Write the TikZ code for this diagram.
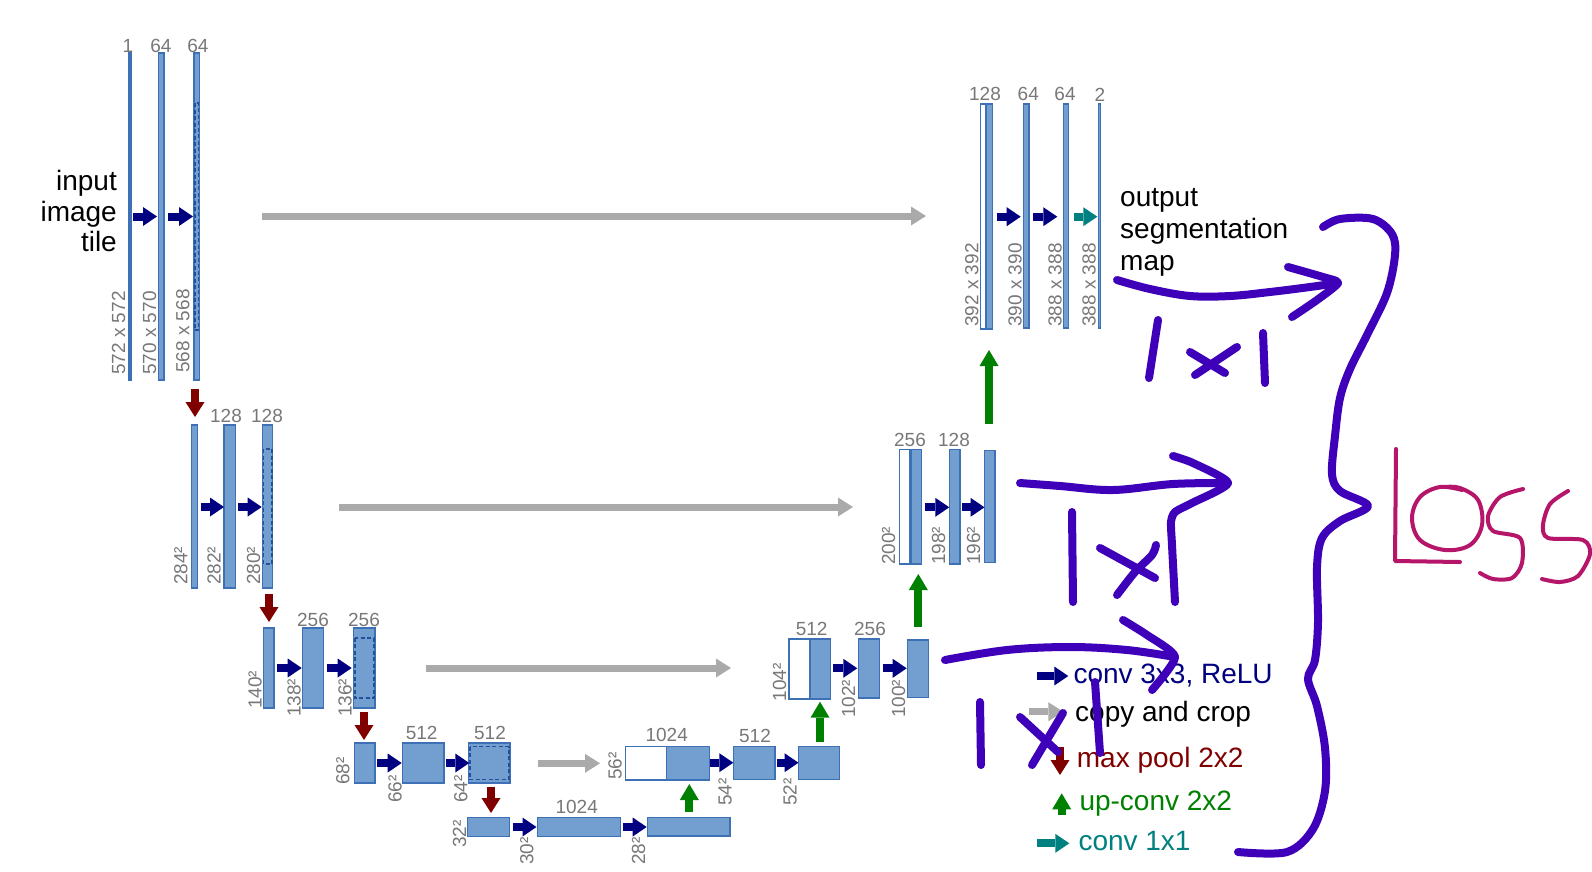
\documentclass[tikz,border=0pt]{standalone}
\usepackage{fontspec}
\setmainfont{Liberation Sans}
\usetikzlibrary{arrows.meta}
\definecolor{barfill}{RGB}{114,159,207}
\definecolor{barline}{RGB}{62,112,182}
\definecolor{cropline}{RGB}{35,80,155}
\definecolor{navyc}{RGB}{0,0,128}
\definecolor{maroonc}{RGB}{128,0,0}
\definecolor{greenc}{RGB}{0,128,0}
\definecolor{tealc}{RGB}{0,128,128}
\definecolor{greyarrow}{RGB}{170,170,170}
\definecolor{labelgrey}{RGB}{120,120,120}
\definecolor{penc}{RGB}{62,0,185}
\definecolor{lossc}{RGB}{182,22,105}
\begin{document}
\begin{tikzpicture}[x=1pt,y=-1pt,
  bar/.style={draw=barline,fill=barfill,line width=1.2pt,inner sep=0pt,outer sep=0pt,anchor=north west},
  wbar/.style={bar,fill=white},
  croprect/.style={draw=cropline,line width=1.8pt,dash pattern=on 4pt off 2.5pt},
  tiparrow/.style={-{Triangle[length=14pt,width=19pt,line width=0pt]}},
  convarrow/.style={draw=navyc,line width=8pt,tiparrow},
  onearrow/.style={draw=tealc,line width=8pt,tiparrow},
  copyarrow/.style={draw=greyarrow,line width=7pt,-{Triangle[length=15pt,width=19pt,line width=0pt]}},
  poolarrow/.style={draw=maroonc,line width=8pt,-{Triangle[length=15pt,width=19pt,line width=0pt]}},
  uparrow/.style={draw=greenc,line width=8pt,-{Triangle[length=16pt,width=19pt,line width=0pt]}},
  toplabel/.style={font=\fontsize{19}{22}\selectfont,text=labelgrey,inner sep=0pt,anchor=base},
  dimlabel/.style={toplabel,rotate=90,anchor=base west},
  bigtext/.style={font=\fontsize{28}{31}\selectfont,inner sep=0pt},
  hand/.style={draw=penc,line width=8pt,line cap=round,line join=round},
  losspen/.style={draw=lossc,line width=4pt,line cap=round,line join=round}
]
\useasboundingbox[fill=white] (0,0) rectangle (1592,871);

% ---------- level 1 (down) ----------
\node[bar,minimum width=2pt,minimum height=327pt] (b1a) at (129,53) {};
\node[bar,minimum width=5.3pt,minimum height=327pt] (b1b) at (158.7,53) {};
\node[bar,minimum width=5.3pt,minimum height=327pt] (b1c) at (194,53) {};
\draw[croprect] (194.8,103) rectangle (198.5,330);
\node[toplabel] (t1a) at (128,52) {1};
\node[toplabel] (t1b) at (161,52) {64};
\node[toplabel] (t1c) at (198,52) {64};
\node[dimlabel] (d1a) at (125,375) {572 x 572};
\node[dimlabel] (d1b) at (156,375) {570 x 570};
\node[dimlabel] (d1c) at (189.3,373) {568 x 568};
\draw[convarrow] (133,216.5) -- (157,216.5);
\draw[convarrow] (168,216.5) -- (193,216.5);
\node[bigtext,anchor=base east] (in1) at (117,190) {input};
\node[bigtext,anchor=base east] (in2) at (117,221.7) {image};
\node[bigtext,anchor=base east] (in3) at (117,251.7) {tile};
\draw[copyarrow] (262,216) -- (926,216);

% ---------- level 2 (down) ----------
\draw[poolarrow] (195,389) -- (195,417);
\node[bar,minimum width=5.6pt,minimum height=163pt] (b2a) at (191.7,425) {};
\node[bar,minimum width=11.7pt,minimum height=163pt] (b2b) at (224,425) {};
\node[bar,minimum width=10pt,minimum height=163pt] (b2c) at (262.7,425) {};
\draw[croprect] (263.5,449) rectangle (271.9,564);
\node[toplabel] (t2b) at (226,422) {128};
\node[toplabel] (t2c) at (267,422) {128};
\node[dimlabel] (d2a) at (187.3,585) {284²};
\node[dimlabel] (d2b) at (220.7,585) {282²};
\node[dimlabel] (d2c) at (260,585) {280²};
\draw[convarrow] (200.7,507) -- (224,507);
\draw[convarrow] (238,507) -- (261.7,507);
\draw[copyarrow] (339,507) -- (853,507);

% ---------- level 3 (down) ----------
\draw[poolarrow] (269,594) -- (269,622);
\node[bar,minimum width=10.7pt,minimum height=80pt] (b3a) at (263.3,628) {};
\node[bar,minimum width=20.6pt,minimum height=80pt] (b3b) at (302.7,628) {};
\node[bar,minimum width=21.7pt,minimum height=80pt] (b3c) at (353.3,628) {};
\draw[croprect] (354.6,637.7) rectangle (373.8,698.3);
\node[toplabel] (t3b) at (313,626) {256};
\node[toplabel] (t3c) at (364,626) {256};
\node[dimlabel] (d3a) at (261.7,709) {140²};
\node[dimlabel] (d3b) at (300.7,717) {138²};
\node[dimlabel] (d3c) at (351.7,717) {136²};
\draw[convarrow] (277,668) -- (301.7,668);
\draw[convarrow] (326.7,668) -- (351.7,668);
\draw[copyarrow] (426,668) -- (731,668);

% ---------- level 4 (down) ----------
\draw[poolarrow] (364,711.7) -- (364,740);
\node[bar,minimum width=20.7pt,minimum height=40pt] (b4a) at (354.3,743) {};
\node[bar,minimum width=41.7pt,minimum height=40pt] (b4b) at (402.3,743) {};
\node[bar,minimum width=41.7pt,minimum height=40pt] (b4c) at (468.3,743) {};
\draw[croprect] (469.8,746.5) rectangle (508.6,779.5);
\node[toplabel] (t4b) at (421.7,739) {512};
\node[toplabel] (t4c) at (490,739) {512};
\node[dimlabel] (d4a) at (349.3,785) {68²};
\node[dimlabel] (d4b) at (401.7,803) {66²};
\node[dimlabel] (d4c) at (467.3,803) {64²};
\draw[convarrow] (377.3,763) -- (401.7,763);
\draw[convarrow] (446,763) -- (469.3,763);
\draw[copyarrow] (538.3,763.3) -- (600,763.3);

% ---------- level 5 (bottom) ----------
\draw[poolarrow] (491,786.7) -- (491,813);
\node[bar,minimum width=41.6pt,minimum height=19.2pt] (b5a) at (467.7,817.5) {};
\node[bar,minimum width=83.4pt,minimum height=19.2pt] (b5b) at (537.3,817.5) {};
\node[bar,minimum width=82.7pt,minimum height=18.5pt] (b5c) at (647.3,817.5) {};
\node[toplabel] (t5b) at (576.7,813) {1024};
\node[dimlabel] (d5a) at (466,848) {32²};
\node[dimlabel] (d5b) at (533.3,865) {30²};
\node[dimlabel] (d5c) at (645,865) {28²};
\draw[convarrow] (512.7,827) -- (536.5,827);
\draw[convarrow] (622.7,827) -- (646.7,827);
\draw[uparrow] (689.3,812.3) -- (689.3,784);

% ---------- level 4 (up) ----------
\node[wbar,minimum width=41pt,minimum height=33.3pt] (w4) at (625.7,746.7) {};
\node[bar,minimum width=42.6pt,minimum height=33.3pt] (u4a) at (666.7,746.7) {};
\node[bar,minimum width=41.7pt,minimum height=32.5pt] (u4b) at (733.3,746.7) {};
\node[bar,minimum width=41pt,minimum height=32.5pt] (u4c) at (798.3,746.7) {};
\node[toplabel] (t4u) at (666.7,741.5) {1024};
\node[toplabel] (t4v) at (755,742) {512};
\node[dimlabel] (d4u) at (621.7,780) {56²};
\node[dimlabel] (d4v) at (731.7,806) {54²};
\node[dimlabel] (d4w) at (796.7,806) {52²};
\draw[convarrow] (710,762.7) -- (733.3,762.7);
\draw[convarrow] (776.7,762.7) -- (798.5,762.7);
\draw[uparrow] (820,741.7) -- (820,701.7);

% ---------- level 3 (up) ----------
\node[wbar,minimum width=21pt,minimum height=60pt] (w3) at (789,639) {};
\node[bar,minimum width=20.7pt,minimum height=60pt] (u3a) at (810,639) {};
\node[bar,minimum width=21pt,minimum height=59pt] (u3b) at (858.3,639) {};
\node[bar,minimum width=21pt,minimum height=57.5pt] (u3c) at (907.3,640) {};
\node[toplabel] (t3u) at (811.7,635) {512};
\node[toplabel] (t3v) at (870,635) {256};
\node[dimlabel] (d3u) at (786,701.7) {104²};
\node[dimlabel] (d3v) at (855,718) {102²};
\node[dimlabel] (d3w) at (905,718) {100²};
\draw[convarrow] (833.3,668.3) -- (857.3,668.3);
\draw[convarrow] (882.7,668.3) -- (906.7,668.3);
\draw[uparrow] (918.3,627) -- (918.3,574);

% ---------- level 2 (up) ----------
\node[wbar,minimum width=10.7pt,minimum height=114.7pt] (w2) at (899.3,449.3) {};
\node[bar,minimum width=10.7pt,minimum height=114.7pt] (u2a) at (911,449.3) {};
\node[bar,minimum width=10.7pt,minimum height=114.7pt] (u2b) at (949.3,449.3) {};
\node[bar,minimum width=10.7pt,minimum height=112pt] (u2c) at (984.3,450.7) {};
\node[toplabel] (t2u) at (910,446.5) {256};
\node[toplabel] (t2v) at (954,446.5) {128};
\node[dimlabel] (d2u) at (895,565) {200²};
\node[dimlabel] (d2v) at (945,565) {198²};
\node[dimlabel] (d2w) at (980,565) {196²};
\draw[convarrow] (925,507.3) -- (949.3,507.3);
\draw[convarrow] (962.3,507.3) -- (984.5,507.3);
\draw[uparrow] (989,424) -- (989,350);

% ---------- level 1 (up) ----------
\node[wbar,minimum width=5.3pt,minimum height=225pt] (w1) at (980.7,104) {};
\node[bar,minimum width=6.3pt,minimum height=225pt] (u1a) at (986,104) {};
\node[bar,minimum width=5.7pt,minimum height=224pt] (u1b) at (1023.3,104) {};
\node[bar,minimum width=5.4pt,minimum height=224pt] (u1c) at (1063.3,104) {};
\node[bar,minimum width=2pt,minimum height=224pt] (u1d) at (1098.3,104) {};
\node[toplabel] (t1u) at (985,100.5) {128};
\node[toplabel] (t1v) at (1028.3,100.5) {64};
\node[toplabel] (t1w) at (1065,100.5) {64};
\node[toplabel] (t1x) at (1100,101) {2};
\node[dimlabel] (d1u) at (978.3,327) {392 x 392};
\node[dimlabel] (d1v) at (1021.7,327) {390 x 390};
\node[dimlabel] (d1w) at (1061.7,327) {388 x 388};
\node[dimlabel] (d1x) at (1095.7,327) {388 x 388};
\draw[convarrow] (996.7,216.7) -- (1020.7,216.7);
\draw[convarrow] (1033.3,216.7) -- (1057.3,216.7);
\draw[onearrow] (1074,216.7) -- (1097.3,216.7);
\node[bigtext,anchor=base west] (out1) at (1120,206.5) {output};
\node[bigtext,anchor=base west] (out2) at (1120,238.3) {segmentation};
\node[bigtext,anchor=base west] (out3) at (1120,270) {map};

% ---------- legend ----------
\draw[convarrow] (1036.7,676) -- (1068.3,676);
\node[bigtext,anchor=base west,text=navyc] (lg1) at (1073.3,683.5) {conv 3x3, ReLU};
\draw[copyarrow] (1029,711.7) -- (1063.3,711.7);
\node[bigtext,anchor=base west] (lg2) at (1075,721.5) {copy and crop};
\draw[poolarrow] (1060,747) -- (1060,775);
\node[bigtext,anchor=base west,text=maroonc] (lg3) at (1076.7,767.5) {max pool 2x2};
\draw[uparrow] (1061.7,815) -- (1061.7,793.3);
\node[bigtext,anchor=base west,text=greenc] (lg4) at (1079.3,810) {up-conv 2x2};
\draw[onearrow] (1037.3,843.3) -- (1069.3,843.3);
\node[bigtext,anchor=base west,text=tealc] (lg5) at (1078.3,850.5) {conv 1x1};

% ---------- handwriting ----------
% top arrow and 1x1
\draw[hand] plot[smooth,tension=0.6] coordinates {(1117,280) (1150,289) (1190,296) (1230,296) (1270,292) (1310,287) (1338,283)};
\draw[hand] plot[smooth,tension=0.4] coordinates {(1288,267) (1323,277) (1338,283) (1317,300) (1292,317)};
\draw[hand] (1158,320) -- (1149,378);
\draw[hand] (1190,352) -- (1225,373);
\draw[hand] (1237,347) -- (1195,375);
\draw[hand] (1263,333) -- (1265,383);
% middle arrow and 1x1
\draw[hand] plot[smooth,tension=0.6] coordinates {(1020,483) (1060,486) (1113,490) (1173,484) (1228,483)};
\draw[hand] plot[smooth,tension=0.4] coordinates {(1173,456) (1193,463) (1228,483) (1192,503) (1175,512) (1171,522) (1172,545) (1175,602)};
\draw[hand] (1072,512) -- (1073,602);
\draw[hand] (1100,548) -- (1155,578);
\draw[hand] plot[smooth,tension=0.5] coordinates {(1156,545) (1152,555) (1135,572) (1117,595)};
% lower arrow and 1x1
\draw[hand] plot[smooth,tension=0.6] coordinates {(945,660) (1007,650) (1070,647) (1127,650) (1175,657)};
\draw[hand] plot[smooth,tension=0.4] coordinates {(1123,620) (1147,635) (1175,657) (1152,690)};
\draw[hand] (980,702) -- (981,765);
\draw[hand] (1020,717) -- (1058,752);
\draw[hand] (1063,713) -- (1032,765);
\draw[hand] (1095,682) -- (1100,753);
% brace
\draw[hand] plot[smooth,tension=0.55] coordinates {(1323,227) (1340,219) (1373,219) (1392,234) (1395,255) (1387,293) (1367,335) (1350,369) (1340,398) (1335,436) (1332,474) (1340,491) (1368,506) (1340,521) (1322,538) (1317,567) (1318,622) (1315,660) (1308,679) (1317,706) (1325,748) (1325,791) (1313,829) (1287,852) (1238,852)};
% loss
\draw[losspen] (1396,449) -- (1395,561) -- (1460,562);
\draw[losspen] plot[smooth,tension=0.6] coordinates {(1462,490) (1440,487) (1420,497) (1412,518) (1420,540) (1445,550) (1470,545) (1482,525) (1478,500) (1460,488) (1445,487)};
\draw[losspen] plot[smooth,tension=0.5] coordinates {(1523,489) (1500,497) (1488,516) (1493,531) (1520,538) (1522,563) (1512,578) (1493,579) (1480,573)};
\draw[losspen] plot[smooth,tension=0.5] coordinates {(1568,491) (1550,504) (1543,525) (1548,538) (1583,540) (1590,554) (1578,576) (1560,582) (1542,579)};
\end{tikzpicture}
\end{document}
